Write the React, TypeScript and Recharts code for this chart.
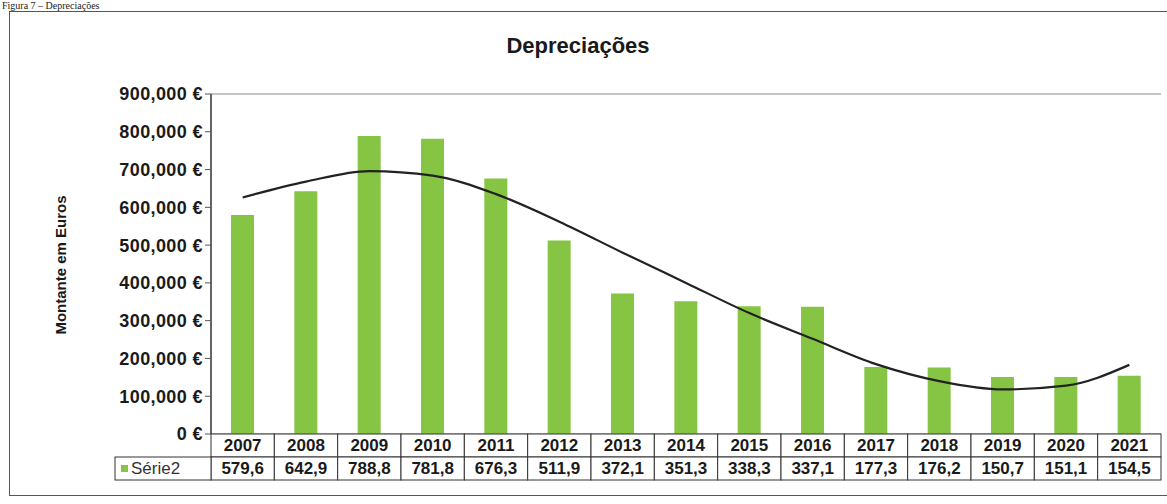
import { Bar, CartesianGrid, ComposedChart, Line, XAxis, YAxis } from 'recharts';

// Depreciações anuais (milhares de euros)
const years = ['2007', '2008', '2009', '2010', '2011', '2012', '2013', '2014', '2015', '2016', '2017', '2018', '2019', '2020', '2021'];
const depreciacoes = [579.6, 642.9, 788.8, 781.8, 676.3, 511.9, 372.1, 351.3, 338.3, 337.1, 177.3, 176.2, 150.7, 151.1, 154.5];
// linha de tendência polinomial (milhares de euros)
const tendencia = [626, 668, 696, 684, 635, 562, 480, 400, 320, 252, 185, 140, 118, 128, 183];
const yTicks = [0, 100000, 200000, 300000, 400000, 500000, 600000, 700000, 800000, 900000];

const data = years.map((year, i) => ({
  year,
  valor: depreciacoes[i] * 1000,
  tendencia: tendencia[i] * 1000,
}));

const FONT = '"Liberation Sans", Arial, sans-serif';
const GREEN = '#86c443';
const PLOT_LEFT = 211;
const PLOT_RIGHT = 1161;
const COL_W = (PLOT_RIGHT - PLOT_LEFT) / years.length;
const ROW_H = 23;
const LEGEND_W = 96;

const fmtEuro = (v: number) => `${v.toLocaleString('en-US')} €`;
const fmtValor = (v: number) => v.toFixed(1).replace('.', ',');

function TableTick(props: any) {
  const { x, y, payload } = props;
  const i = years.indexOf(String(payload.value));
  const left = x - COL_W / 2;
  const top = y;
  return (
    <g fontFamily={FONT} fontWeight={700} fontSize={17} fill="#1a1a1a">
      <rect x={left} y={top} width={COL_W} height={ROW_H} fill="#fff" stroke="#333" strokeWidth={1} />
      <rect x={left} y={top + ROW_H} width={COL_W} height={ROW_H} fill="#fff" stroke="#333" strokeWidth={1} />
      <text x={x} y={top + 17} textAnchor="middle">{payload.value}</text>
      <text x={x} y={top + ROW_H + 17} textAnchor="middle">{fmtValor(depreciacoes[i])}</text>
      {i === 0 && (
        <g>
          <rect x={left - LEGEND_W} y={top + ROW_H} width={LEGEND_W} height={ROW_H} fill="#fff" stroke="#333" strokeWidth={1} />
          <rect x={left - LEGEND_W + 6} y={top + ROW_H + 8} width={7} height={7} fill={GREEN} />
          <text x={left - LEGEND_W + 16} y={top + ROW_H + 17} fontWeight={400} fill="#333">Série2</text>
        </g>
      )}
    </g>
  );
}

export default function App() {
  return (
    <div style={{ position: 'absolute', left: 0, top: 0, width: 1167, height: 504, background: '#fff', overflow: 'hidden' }}>
      <div
        style={{
          position: 'absolute', left: 2, top: 0, fontFamily: '"Liberation Serif", "Times New Roman", serif',
          fontSize: 10, lineHeight: '11px', color: '#222', whiteSpace: 'nowrap',
        }}
      >
        Figura 7 – Depreciações
      </div>
      <div style={{ position: 'absolute', left: 9, top: 11, width: 1170, height: 483, border: '1px solid #555' }} />
      <div
        style={{
          position: 'absolute', left: 0, width: 1156, top: 33, textAlign: 'center',
          fontFamily: FONT, fontWeight: 700, fontSize: 22, color: '#1a1a1a',
        }}
      >
        Depreciações
      </div>
      <div
        style={{
          position: 'absolute', left: 60, top: 265, transform: 'translate(-50%, -50%) rotate(-90deg)',
          fontFamily: FONT, fontWeight: 700, fontSize: 15, color: '#1a1a1a', whiteSpace: 'nowrap',
        }}
      >
        Montante em Euros
      </div>
      <ComposedChart
        width={1167}
        height={504}
        data={data}
        barCategoryGap={0}
        margin={{ top: 94, right: 1167 - PLOT_RIGHT, bottom: 24, left: 0 }}
        style={{ position: 'absolute', left: 0, top: 0 }}
      >
        <CartesianGrid stroke="#8a8a8a" strokeWidth={1} vertical={false} />
        <XAxis
          dataKey="year"
          height={2 * ROW_H}
          tickSize={0}
          tickMargin={0}
          axisLine={false}
          interval={0}
          tick={<TableTick />}
        />
        <YAxis
          yAxisId="left"
          width={PLOT_LEFT}
          domain={[0, 900000]}
          ticks={yTicks}
          tickFormatter={fmtEuro}
          tick={{ fontFamily: FONT, fontWeight: 700, fontSize: 18, fill: '#1a1a1a', letterSpacing: 0.4 }}
          tickSize={6}
          tickMargin={2}
          axisLine={{ stroke: '#333', strokeWidth: 1.5 }}
          tickLine={{ stroke: '#555' }}
          interval={0}
        />
        <YAxis
          yAxisId="right"
          orientation="right"
          width={0}
          domain={[0, 900000]}
          tick={false}
          tickLine={false}
          axisLine={{ stroke: '#666', strokeWidth: 1 }}
        />
        <Bar yAxisId="left" dataKey="valor" fill={GREEN} barSize={23} isAnimationActive={false} />
        <Line
          yAxisId="left"
          dataKey="tendencia"
          type="monotone"
          stroke="#222"
          strokeWidth={2.2}
          dot={false}
          activeDot={false}
          isAnimationActive={false}
        />
      </ComposedChart>
    </div>
  );
}
